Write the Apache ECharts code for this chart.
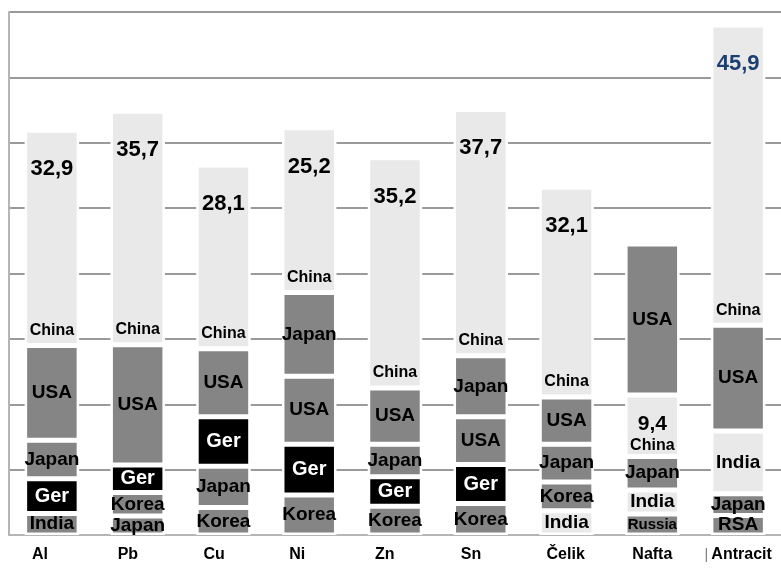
<!DOCTYPE html>
<html>
<head>
<meta charset="utf-8">
<script src="https://cdn.jsdelivr.net/npm/echarts@6/dist/echarts.min.js"></script>
<style>html,body{margin:0;padding:0;background:#fff}#c{width:781px;height:568px}</style>
</head>
<body>
<div id="c"></div>
<script>
// Categories
const categories = ['Al', 'Pb', 'Cu', 'Ni', 'Zn', 'Sn', 'Čelik', 'Nafta', 'Antracit'];
// Stack layers from bottom to top: country names and shares (%)
const layer1Names = ['India', 'Japan', 'Korea', 'Korea', 'Korea', 'Korea', 'India', 'Russia', 'RSA'];
const layer1Values = [3.3, 2.9, 4.2, 6.1, 4.4, 4.8, 3.7, 3.2, 3.0];
const layer2Names = ['Ger', 'Korea', 'Japan', 'Ger', 'Ger', 'Ger', 'Korea', 'India', 'Japan'];
const layer2Values = [5.3, 3.6, 6.3, 7.8, 4.5, 6.0, 4.4, 3.7, 3.3];
const layer3Names = ['Japan', 'Ger', 'Ger', 'USA', 'Japan', 'USA', 'Japan', 'Japan', 'India'];
const layer3Values = [5.9, 4.2, 7.6, 10.4, 5.0, 7.3, 5.8, 5.1, 9.6];
const layer4Names = ['USA', 'USA', 'USA', 'Japan', 'USA', 'Japan', 'USA', 'China', 'USA'];
const layer4Values = [14.5, 18.4, 10.4, 12.8, 8.6, 9.3, 7.2, 9.4, 16.2];
const layer5Names = ['China', 'China', 'China', 'China', 'China', 'China', 'China', 'USA', 'China'];
const layer5Values = [32.9, 35.7, 28.1, 25.2, 35.2, 37.7, 32.1, 23.1, 45.9];
// y axis
const yMin = 0, yMax = 80, yStep = 10;

const layers = [
  [layer1Names, layer1Values], [layer2Names, layer2Values], [layer3Names, layer3Values],
  [layer4Names, layer4Values], [layer5Names, layer5Values]
];

const LIGHT = '#e9e9e9', MID = '#858585', DARK = '#000000';
function colorOf(country, cat) {
  if (country === 'China') return LIGHT;
  if (country === 'India') return cat === 'Al' ? MID : LIGHT;
  if (country === 'Ger') return DARK;
  return MID;
}
function fmt(v) { return v.toFixed(1).replace('.', ','); }
function fontSizeOf(country) {
  if (country === 'China') return 16;
  if (country === 'Russia') return 15;
  if (country === 'Ger') return 20;
  return 19;
}

const FONT = '"Liberation Sans", Arial, sans-serif';
const series = layers.map(([names, values], li) => ({
  type: 'bar',
  stack: 'total',
  barWidth: 54.5,
  z: 3,
  data: values.map((v, i) => {
    const c = names[i];
    const cat = categories[i];
    const item = {
      value: v,
      itemStyle: { color: colorOf(c, cat), borderColor: '#ffffff', borderWidth: 2.5 },
      label: {
        show: true,
        position: 'inside',
        formatter: c,
        color: c === 'Ger' ? '#ffffff' : '#000000',
        fontFamily: FONT,
        fontWeight: 'bold',
        fontSize: fontSizeOf(c)
      }
    };
    if (c === 'China') {
      item.label.position = 'insideBottom';
      item.label.distance = 7;
      if (li < 4) {
        // China not on top: value shown above its name
        item.label.formatter = '{v|' + fmt(v) + '}\n{c|China}';
        item.label.distance = 1;
        item.label.rich = {
          v: { fontFamily: FONT, fontWeight: 'bold', fontSize: 21, lineHeight: 25, color: '#000' },
          c: { fontFamily: FONT, fontWeight: 'bold', fontSize: 16, lineHeight: 19, color: '#000' }
        };
      }
    }
    return item;
  })
}));

// zero-height top series carrying the China value labels
series.push({
  type: 'bar',
  stack: 'total',
  barWidth: 54.5,
  z: 4,
  data: categories.map((cat, i) => {
    const topIsChina = layer5Names[i] === 'China';
    return {
      value: 0,
      itemStyle: { color: 'rgba(0,0,0,0)', borderWidth: 0 },
      label: {
        show: topIsChina,
        position: 'bottom',
        distance: 28,
        formatter: fmt(layer5Values[i]),
        fontFamily: FONT,
        fontWeight: 'bold',
        fontSize: 22,
        color: cat === 'Antracit' ? '#1c3f72' : '#000000'
      }
    };
  })
});

const chart = echarts.init(document.getElementById('c'), null, { renderer: 'canvas' });
chart.setOption({
  animation: false,
  backgroundColor: '#ffffff',
  grid: { left: 9, top: 12, width: 780, bottom: 33, containLabel: false },
  xAxis: {
    type: 'category',
    data: categories,
    axisLine: { show: true, lineStyle: { color: '#b5b5b5', width: 2 } },
    axisTick: { show: false },
    axisLabel: {
      margin: 12,
      interval: 0,
      formatter: (v) => v === 'Antracit' ? '{bar||} {n2|' + v + '}' : '{n|' + v + '}',
      rich: {
        n: { fontFamily: FONT, fontWeight: 'bold', fontSize: 16, color: '#000', width: 48, align: 'left', padding: [0, 0, 0, 8] },
        n2: { fontFamily: FONT, fontWeight: 'bold', fontSize: 16, color: '#000' },
        bar: { fontFamily: FONT, fontSize: 14, color: '#777' }
      }
    },
    z: 1
  },
  yAxis: {
    type: 'value',
    min: yMin,
    max: yMax,
    interval: yStep,
    axisLine: { show: true, lineStyle: { color: '#b5b5b5', width: 2 } },
    axisTick: { show: false },
    axisLabel: { show: false },
    splitLine: { show: true, lineStyle: { color: '#9a9a9a', width: 2 } },
    z: 1
  },
  series: series
});
</script>
</body>
</html>
